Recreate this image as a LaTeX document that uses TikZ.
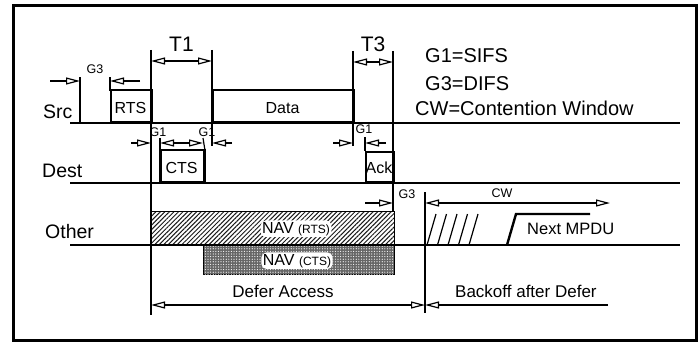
\documentclass[tikz,border=0pt]{standalone}
\usepackage{fontspec}
\setmainfont{Liberation Sans}
\usetikzlibrary{arrows.meta,patterns,patterns.meta,calc}
\tikzset{
  tline/.style={line width=1.4pt},
  vtick/.style={line width=1.2pt},
  openhead/.tip={Triangle[open,fill=white,length=14pt,width=7pt,line width=1.2pt]},
  dim/.style={line width=1.1pt,-openhead},
  dimb/.style={line width=1.1pt,openhead-openhead},
  frame/.style={draw,line width=1.8pt,inner sep=0pt,anchor=south west},
  bigl/.style={font=\fontsize{19.5}{20}\selectfont,anchor=base west,inner sep=0pt},
  tlab/.style={font=\fontsize{21}{21}\selectfont,anchor=base,inner sep=0pt},
  legl/.style={font=\fontsize{20}{20}\selectfont,anchor=base west,inner sep=0pt},
  boxl/.style={font=\fontsize{16}{16}\selectfont,anchor=base,inner sep=0pt},
  smalll/.style={font=\fontsize{12.5}{12.5}\selectfont,anchor=base,inner sep=0pt},
  midl/.style={font=\fontsize{17}{17}\selectfont,anchor=base,inner sep=0pt},
  navl/.style={font=\fontsize{16}{16}\selectfont,anchor=base,inner sep=1.5pt,fill=white,rounded corners=5pt},
}
\begin{document}
\begin{tikzpicture}[x=1pt,y=-1pt]
\useasboundingbox (0,0) rectangle (698,345);
\draw[line width=3pt] (13,6) rectangle (696,340);

% NAV areas (drawn first)
\node[draw,line width=0.8pt,minimum width=243pt,minimum height=33pt,inner sep=0pt,anchor=south west,
      pattern={Lines[angle=45,distance=3.2pt,line width=1pt]},pattern color=black!90] (navr) at (151,245) {};
\node[draw,line width=0.8pt,minimum width=191pt,minimum height=29pt,inner sep=0pt,anchor=north west,
      fill=black!60,
      postaction={pattern={Dots[distance=2.6pt,radius=0.6pt]},pattern color=white}] (navc) at (203,245) {};
\node[navl] (navrl) at (296,233) {NAV \fontsize{12}{12}\selectfont(RTS)};
\node[navl] (navcl) at (297,265) {NAV \fontsize{12}{12}\selectfont(CTS)};

% timelines
\coordinate (s0) at (70,123); \coordinate (s1) at (680,123);
\coordinate (d0) at (70,183); \coordinate (d1) at (680,183);
\coordinate (o0) at (70,245); \coordinate (o1) at (680,245);
\draw[tline] (s0) -- (s1);
\draw[tline] (d0) -- (d1);
\draw[tline] (o0) -- (o1);

\node[bigl] (src) at (43,118) {Src};
\node[bigl] (dest) at (42,177) {Dest};
\node[bigl] (other) at (45,238) {Other};

% frames
\node[frame,minimum width=41pt,minimum height=32pt] (rts) at (110,123) {};
\node[boxl] (rtsl) at (130.5,113) {RTS};
\node[frame,minimum width=141pt,minimum height=32pt] (data) at (212,123) {};
\node[boxl] (datal) at (282.5,113) {Data};
\node[frame,minimum width=43pt,minimum height=32pt] (cts) at (160,183) {};
\draw[line width=2.6pt] (cts.south west) -- (cts.north west) (cts.south east) -- (cts.north east);
\node[boxl] (ctsl) at (181.5,173) {CTS};
\node[frame,minimum width=28pt,minimum height=30pt] (ack) at (365,183) {};
\node[boxl] (ackl) at (379,173) {Ack};

% vertical ticks
\coordinate (a0) at (80,77);   \coordinate (a1) at (80,123);
\coordinate (b0) at (110,77);  \coordinate (b1) at (110,91);
\coordinate (c0) at (151,50);  \coordinate (c1) at (151,315);
\coordinate (e0) at (212,50);  \coordinate (e1) at (212,146);
\coordinate (f0) at (353,51);  \coordinate (f1) at (353,146);
\coordinate (h0) at (393,51);  \coordinate (h1) at (393,212);
\coordinate (i0) at (160,138); \coordinate (j0) at (203,138);
\coordinate (k0) at (365,137);
\coordinate (m0) at (425,192); \coordinate (m1) at (425,313);
\draw[vtick] (a0) -- (a1);
\draw[vtick] (b0) -- (b1);
\draw[vtick] (c0) -- (c1);
\draw[vtick] (e0) -- (e1);
\draw[vtick] (f0) -- (f1);
\draw[vtick] (h0) -- (h1);
\draw[vtick] (i0) -- (cts.north west);
\draw[vtick] (j0) -- (cts.north east);
\draw[vtick] (k0) -- (ack.north west);
\draw[vtick] (m0) -- (m1);

% G3 at source
\coordinate (g3a) at (50,81);  \coordinate (g3at) at (80,81);
\coordinate (g3b) at (140,81); \coordinate (g3bt) at (110,81);
\draw[dim] (g3a) -- (g3at);
\draw[dim] (g3b) -- (g3bt);
\node[smalll] (g3l) at (95,74) {G3};

% T1, T3
\coordinate (t1a) at (151,61); \coordinate (t1b) at (212,61);
\draw[dimb] (t1a) -- (t1b);
\node[tlab] (t1) at (181.5,52) {T1};
\coordinate (t3a) at (353,62); \coordinate (t3b) at (393,62);
\draw[dimb] (t3a) -- (t3b);
\node[tlab] (t3) at (373,52) {T3};

% G1 marks
\coordinate (p1) at (131,143); \coordinate (p1t) at (151,143);
\coordinate (p2) at (181.5,143); \coordinate (p2t) at (160,143);
\coordinate (p3t) at (203,143);
\coordinate (p4) at (232,143); \coordinate (p4t) at (212,143);
\draw[dim] (p1) -- (p1t);
\draw[dim] (p2) -- (p2t);
\draw[dim] (p2) -- (p3t);
\draw[dim] (p4) -- (p4t);
\node[smalll] (g1a) at (158,136) {G1};
\node[smalll] (g1b) at (207,136) {G1};
\coordinate (q1) at (333,143); \coordinate (q1t) at (353,143);
\coordinate (q2) at (386,143); \coordinate (q2t) at (365,143);
\draw[dim] (q1) -- (q1t);
\draw[dim] (q2) -- (q2t);
\node[smalll] (g1c) at (364,133) {G1};

% G3 and CW at other
\coordinate (r1) at (365,203); \coordinate (r1t) at (393,203);
\draw[dim] (r1) -- (r1t);
\node[smalll] (g3m) at (407,198) {G3};
\coordinate (cwa) at (425,203); \coordinate (cwb) at (610,203);
\draw[dimb] (cwa) -- (cwb);
\node[smalll] (cwl) at (502,197) {CW};

% contention slots and next MPDU
\foreach \i in {0,1,2,3,4}{
  \coordinate (sl\i) at ({427+10.5*\i},245);
  \coordinate (su\i) at ({436+10.5*\i},214);
  \draw[line width=1.2pt] (sl\i) -- (su\i);
}
\coordinate (mp0) at (507,245); \coordinate (mp1) at (516,214); \coordinate (mp2) at (590,214);
\draw[line width=2.4pt] (mp0) -- (mp1) -- (mp2);
\node[font=\fontsize{16.5}{16.5}\selectfont,anchor=base west,inner sep=0pt] (mpdu) at (527,234) {Next MPDU};

% legend
\node[legl] (lg1) at (425,63) {G1=SIFS};
\node[legl] (lg2) at (425,90) {G3=DIFS};
\node[legl] (lg3) at (415,115) {CW=Contention Window};

% defer / backoff
\coordinate (da) at (151,305); \coordinate (db) at (425,305); \coordinate (bo) at (608,305);
\draw[dimb] (da) -- (db);
\draw[dim] (bo) -- (db);
\node[midl] (defer) at (283,297) {Defer Access};
\node[midl,anchor=base west] (backoff) at (455,297) {Backoff after Defer};
\end{tikzpicture}
\end{document}
